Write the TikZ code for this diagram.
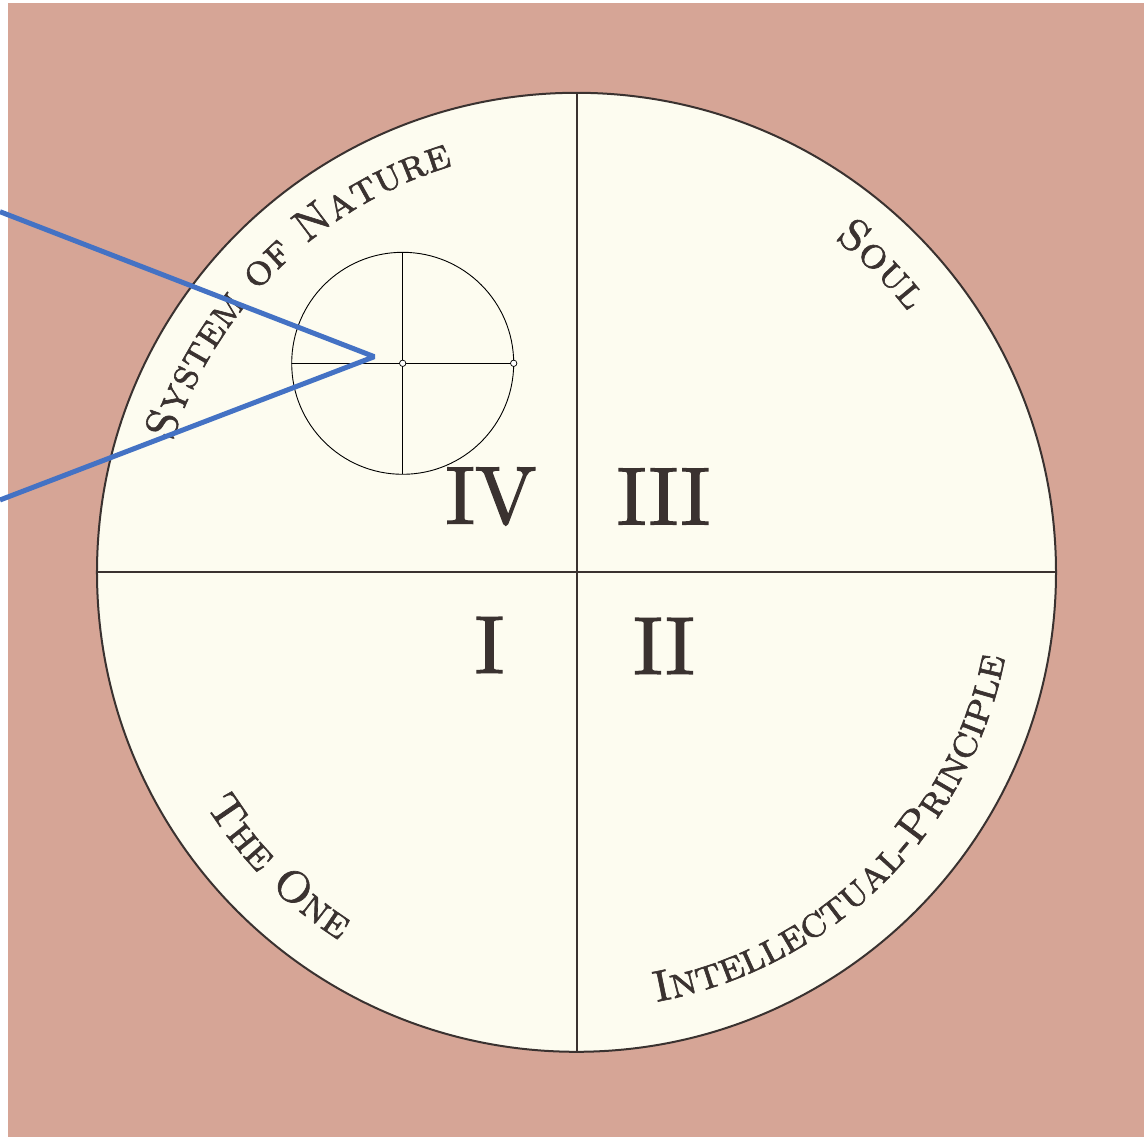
\documentclass[tikz,border=0pt]{standalone}
\usetikzlibrary{decorations.text}
\definecolor{paper}{RGB}{214,165,150}
\definecolor{disc}{RGB}{253,252,240}
\definecolor{ink}{RGB}{58,50,48}
\definecolor{pointer}{RGB}{68,114,196}
\font\numfont="[lmroman10-regular]:embolden=1.6" at 82pt
\font\rimfont="[lmromancaps10-regular]:embolden=1.4" at 44pt
\tikzset{
  quadline/.style={draw=ink, line width=2pt},
  numeral/.style={text=ink, inner sep=0pt, font=\numfont},
  thinline/.style={draw=black, line width=0.9pt},
  opendot/.style={draw=black, fill=white, line width=0.7pt},
  arclabel/.style={decorate, decoration={text along path, text align=center, text={#1}}}
}
\newcommand{\lbl}{|\rimfont\color{ink}|}
\begin{document}
\begin{tikzpicture}[x=1pt,y=1pt]
                %%% Page and paper background
                \useasboundingbox (-576.5,572.3) rectangle (567.5,-572.7);
                \fill[white] (-576.5,572.3) rectangle (567.5,-572.7);
                \fill[paper] (-568.5,569) rectangle (567.5,-564.7);
                %%% Big disc and its quadrants
                \path[quadline, fill=disc] (0,0) circle (479.5);
                \coordinate (top) at (90:479.5);
                \coordinate (bottom) at (270:479.5);
                \coordinate (left) at (180:479.5);
                \coordinate (right) at (0:479.5);
                \draw[quadline] (top) -- (bottom);
                \draw[quadline] (left) -- (right);
                %%% Roman numerals
                \node[numeral] (four) at (-85.5,75.8) {IV};
                \node[numeral] (three) at (87,75.8) {III};
                \node[numeral] (one) at (-87,-72.7) {I};
                \node[numeral] (two) at (87.5,-73.7) {II};
                %%% Names round the rim (top ones clockwise, bottom ones anticlockwise)
                \path[arclabel={\lbl System of Nature}] (174.5:425) arc[start angle=174.5, end angle=94.5, radius=425];
                \path[arclabel={\lbl Soul}] (70.2:422) arc[start angle=70.2, end angle=20.2, radius=422];
                \path[arclabel={\lbl The One}] (194.7:438) arc[start angle=194.7, end angle=254.7, radius=438];
                \path[arclabel={\lbl Intellectual-Principle}] (264.6:437) arc[start angle=264.6, end angle=364.6, radius=437];
                %%% Small circle with its cross
                \coordinate (sc) at (-173.8,209);
                \path[thinline] (sc) circle (111);
                \draw[thinline] ([xshift=-111pt]sc) -- ([xshift=111pt]sc);
                \draw[thinline] ([yshift=111pt]sc) -- ([yshift=-111pt]sc);
                \path[opendot] (sc) circle (3.2);
                \path[opendot] ([xshift=111pt]sc) circle (3.2);
                %%% Blue pointer
                \coordinate (tip) at (-202.2,215.6);
                \coordinate (upper) at (-576.5,360.6);
                \coordinate (lower) at (-576.5,72.3);
                \draw[draw=pointer, line width=5pt, line join=bevel] (upper) -- (tip) -- (lower);
\end{tikzpicture}
\end{document}
